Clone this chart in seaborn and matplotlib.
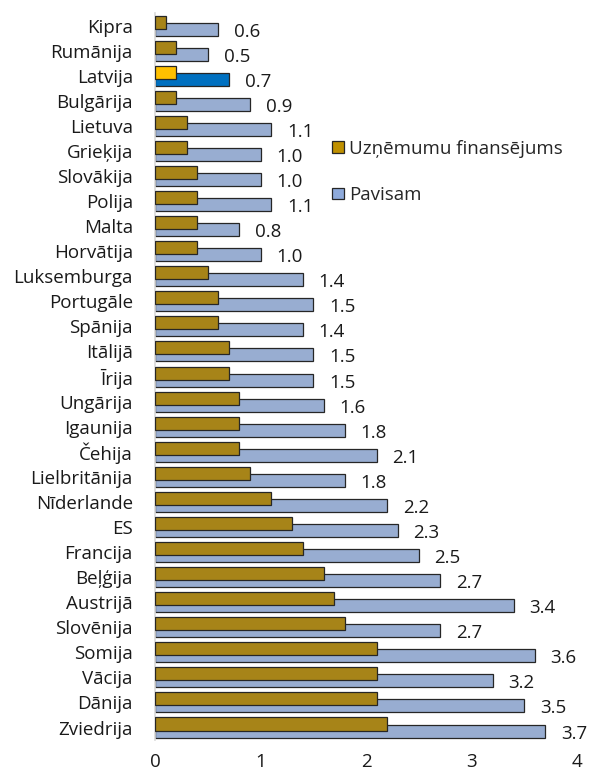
import pandas as pd
import seaborn as sns
import matplotlib.pyplot as plt
from matplotlib.patches import Patch

countries = ["Kipra", "Rumānija", "Latvija", "Bulgārija", "Lietuva", "Grieķija",
             "Slovākija", "Polija", "Malta", "Horvātija", "Luksemburga", "Portugāle",
             "Spānija", "Itālijā", "Īrija", "Ungārija", "Igaunija", "Čehija",
             "Lielbritānija", "Nīderlande", "ES", "Francija", "Beļģija", "Austrijā",
             "Slovēnija", "Somija", "Vācija", "Dānija", "Zviedrija"]
business = [0.1, 0.2, 0.2, 0.2, 0.3, 0.3, 0.4, 0.4, 0.4, 0.4, 0.5, 0.6, 0.6, 0.7, 0.7,
            0.8, 0.8, 0.8, 0.9, 1.1, 1.3, 1.4, 1.6, 1.7, 1.8, 2.1, 2.1, 2.1, 2.2]
total = [0.6, 0.5, 0.7, 0.9, 1.1, 1.0, 1.0, 1.1, 0.8, 1.0, 1.4, 1.5, 1.4, 1.5, 1.5,
         1.6, 1.8, 2.1, 1.8, 2.2, 2.3, 2.5, 2.7, 3.4, 2.7, 3.6, 3.2, 3.5, 3.7]
series = ["Uzņēmumu finansējums", "Pavisam"]
highlight = "Latvija"

gold, blue = "#bf9000", "#8eaadb"
gold_hl, blue_hl = "#ffc000", "#0070c0"

sns.set_style("white")
plt.rcParams['font.family'] = ['Open Sans', 'DejaVu Sans']
fs = 13.5

df = pd.DataFrame({
    "country": countries * 2,
    "value": business + total,
    "series": [series[0]] * len(countries) + [series[1]] * len(countries),
})

fig = plt.figure(figsize=(5.93, 7.79), dpi=100)
ax = fig.add_axes([0.2614, 0.050, 0.7116, 0.9333])

sns.barplot(data=df, x="value", y="country", hue="series", hue_order=series,
            palette=[gold, blue], orient="h", dodge=True, width=0.56,
            edgecolor="#262626", linewidth=0.9, legend=False, ax=ax)

# make the two series overlap like the original chart
n = len(countries)
bar_h = 0.52
for i, p in enumerate(ax.patches[:2 * n]):
    cy = p.get_y() + p.get_height() / 2
    p.set_y(cy - bar_h / 2)
    p.set_height(bar_h)
    p.set_zorder(3 if i < n else 2)

# highlight Latvia
k = countries.index(highlight)
ax.patches[k].set_facecolor(gold_hl)
ax.patches[n + k].set_facecolor(blue_hl)

# value labels
for i, v in enumerate(total):
    ax.text(v + 0.15, i + 0.24, f"{v:.1f}", ha="left", va="center", fontsize=fs,
            color="#1a1a1a")

ax.set_xlim(0, 4)
ax.set_ylim(n - 0.5, -0.5)
ax.set_xticks([0, 1, 2, 3, 4])
ax.set_xlabel("")
ax.set_ylabel("")
ax.tick_params(axis="both", length=0, labelsize=fs, colors="#1a1a1a")
ax.tick_params(axis="y", pad=16)
ax.tick_params(axis="x", pad=9)
for s in ["top", "right", "bottom"]:
    ax.spines[s].set_visible(False)
ax.spines["left"].set_color("#d9d9d9")
ax.spines["left"].set_linewidth(1.2)

handles = [Patch(facecolor=gold, edgecolor="#262626", linewidth=0.9),
           Patch(facecolor=blue, edgecolor="#262626", linewidth=0.9)]
fig.legend(handles, series, loc="upper left", bbox_to_anchor=(0.532, 0.842),
           frameon=False, fontsize=fs, handlelength=0.6, handleheight=0.6,
           handletextpad=0.3, labelspacing=1.5)

fig.savefig("out.png", dpi=100)
